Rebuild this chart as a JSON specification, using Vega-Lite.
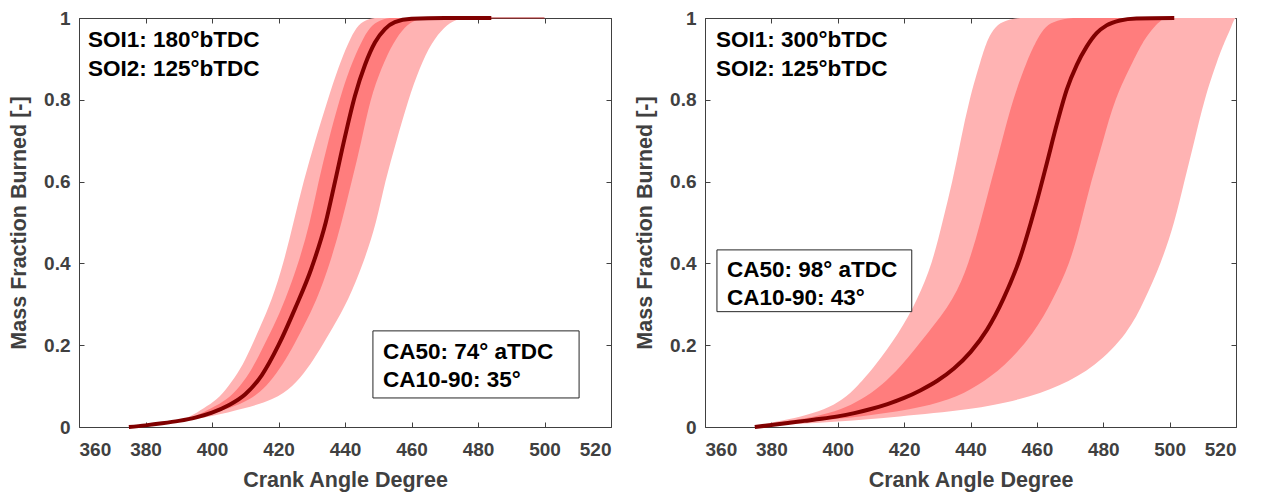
{
  "$schema": "https://vega.github.io/schema/vega-lite/v6.json",
  "background": "white",
  "padding": {"left": 8, "top": 8, "right": 5, "bottom": 5},
  "bounds": "flush",
  "spacing": 94,
  "config": {
    "font": "Liberation Sans",
    "view": {"stroke": "#404040", "strokeWidth": 1},
    "axis": {
      "domain": false,
      "grid": false,
      "tickColor": "#404040",
      "tickSize": -5,
      "labelFont": "Liberation Sans",
      "labelFontSize": 19,
      "labelFontWeight": "bold",
      "labelColor": "#404040",
      "titleFont": "Liberation Sans",
      "titleFontSize": 21.5,
      "titleFontWeight": "bold",
      "titleColor": "#404040"
    }
  },
  "datasets": {
    "bandsL": [
      {"f": 0.015, "oL": 389.8, "iL": 390.2, "iR": 390.8, "oR": 391.5},
      {"f": 0.025, "oL": 393.5, "iL": 394.8, "iR": 397.3, "oR": 399.5},
      {"f": 0.046, "oL": 397.5, "iL": 399.8, "iR": 405.3, "oR": 410},
      {"f": 0.066, "oL": 401.5, "iL": 404.5, "iR": 411.5, "oR": 418.5},
      {"f": 0.1, "oL": 405, "iL": 408.5, "iR": 416.5, "oR": 424.5},
      {"f": 0.14, "oL": 408.5, "iL": 412, "iR": 420.2, "oR": 428.5},
      {"f": 0.19, "oL": 411.5, "iL": 415, "iR": 424, "oR": 432.5},
      {"f": 0.245, "oL": 414.5, "iL": 418.5, "iR": 427.5, "oR": 436.5},
      {"f": 0.31, "oL": 418, "iL": 422, "iR": 431.5, "oR": 441},
      {"f": 0.4, "oL": 421.5, "iL": 426, "iR": 435.5, "oR": 445.5},
      {"f": 0.5, "oL": 424.5, "iL": 429.5, "iR": 439, "oR": 449.5},
      {"f": 0.6, "oL": 427.5, "iL": 432, "iR": 442, "oR": 452},
      {"f": 0.7, "oL": 431, "iL": 435, "iR": 445, "oR": 455.5},
      {"f": 0.8, "oL": 434.8, "iL": 438.3, "iR": 447.5, "oR": 459},
      {"f": 0.88, "oL": 438, "iL": 441.5, "iR": 451, "oR": 462.5},
      {"f": 0.94, "oL": 441, "iL": 444.8, "iR": 454.5, "oR": 466},
      {"f": 0.98, "oL": 443.5, "iL": 447.5, "iR": 458, "oR": 470},
      {"f": 0.995, "oL": 446, "iL": 450.5, "iR": 461, "oR": 473},
      {"f": 1.0, "oL": 449, "iL": 453.5, "iR": 464, "oR": 476}
    ],
    "meanL": [
      {"v": 375, "f": 0}, {"v": 380, "f": 0.004}, {"v": 385, "f": 0.009}, {"v": 390, "f": 0.015},
      {"v": 395, "f": 0.023}, {"v": 400, "f": 0.035}, {"v": 405, "f": 0.053}, {"v": 410, "f": 0.08},
      {"v": 415, "f": 0.127}, {"v": 420, "f": 0.2}, {"v": 425, "f": 0.29}, {"v": 430, "f": 0.39},
      {"v": 434.2, "f": 0.5}, {"v": 437, "f": 0.6}, {"v": 440, "f": 0.71}, {"v": 443, "f": 0.81},
      {"v": 446, "f": 0.885}, {"v": 449, "f": 0.94}, {"v": 452, "f": 0.973}, {"v": 455, "f": 0.99},
      {"v": 460, "f": 0.998}, {"v": 470, "f": 1.0}, {"v": 484, "f": 1.0}
    ],
    "tailL": [{"v": 476, "f": 1.0}, {"v": 500, "f": 1.0}],
    "boxL": [{"a": 448.4, "b": 510.4, "lo": 0.071, "hi": 0.235}],
    "notesL": [
      {"v": 362.7, "f": 0.947, "t": "SOI1: 180°bTDC"},
      {"v": 362.7, "f": 0.875, "t": "SOI2: 125°bTDC"},
      {"v": 451.4, "f": 0.184, "t": "CA50: 74° aTDC"},
      {"v": 451.4, "f": 0.115, "t": "CA10-90: 35°"}
    ],
    "bandsR": [
      {"f": 0.005, "oL": 377, "iL": 378, "iR": 380.5, "oR": 382},
      {"f": 0.013, "oL": 381, "iL": 383, "iR": 390, "oR": 400},
      {"f": 0.025, "oL": 389, "iL": 393.5, "iR": 407, "oR": 418},
      {"f": 0.042, "oL": 396, "iL": 401, "iR": 422, "oR": 440},
      {"f": 0.066, "oL": 401.5, "iL": 407, "iR": 434, "oR": 455},
      {"f": 0.1, "oL": 406, "iL": 413, "iR": 442, "oR": 467},
      {"f": 0.147, "oL": 411, "iL": 419, "iR": 450.2, "oR": 477.5},
      {"f": 0.229, "oL": 418.5, "iL": 427.1, "iR": 459.2, "oR": 487.5},
      {"f": 0.311, "oL": 424, "iL": 435, "iR": 464.8, "oR": 492.5},
      {"f": 0.4, "oL": 428.5, "iL": 439.5, "iR": 470, "oR": 497.4},
      {"f": 0.5, "oL": 431.5, "iL": 443, "iR": 473.3, "oR": 501.5},
      {"f": 0.6, "oL": 434.6, "iL": 446.2, "iR": 476.3, "oR": 504.4},
      {"f": 0.7, "oL": 437, "iL": 449.5, "iR": 480, "oR": 507.5},
      {"f": 0.8, "oL": 439.6, "iL": 452.7, "iR": 483.3, "oR": 510.4},
      {"f": 0.9, "oL": 443.2, "iL": 457.2, "iR": 489.3, "oR": 514.5},
      {"f": 0.95, "oL": 445.2, "iL": 460.2, "iR": 492.5, "oR": 517},
      {"f": 0.98, "oL": 447.5, "iL": 462.5, "iR": 495.5, "oR": 518.7},
      {"f": 0.995, "oL": 450.5, "iL": 466, "iR": 497.5, "oR": 519.3},
      {"f": 1.0, "oL": 455, "iL": 471, "iR": 498.5, "oR": 520}
    ],
    "meanR": [
      {"v": 375, "f": 0}, {"v": 380, "f": 0.005}, {"v": 385, "f": 0.01}, {"v": 390, "f": 0.015},
      {"v": 395, "f": 0.02}, {"v": 400, "f": 0.026}, {"v": 405, "f": 0.034}, {"v": 410, "f": 0.044},
      {"v": 415, "f": 0.056}, {"v": 420, "f": 0.071}, {"v": 425, "f": 0.09}, {"v": 430, "f": 0.113},
      {"v": 435, "f": 0.143}, {"v": 440, "f": 0.183}, {"v": 445, "f": 0.238}, {"v": 450, "f": 0.315},
      {"v": 455, "f": 0.415}, {"v": 458.2, "f": 0.5}, {"v": 460, "f": 0.552}, {"v": 463, "f": 0.645},
      {"v": 466, "f": 0.74}, {"v": 469, "f": 0.825}, {"v": 472, "f": 0.885}, {"v": 475, "f": 0.93},
      {"v": 478, "f": 0.963}, {"v": 481, "f": 0.982}, {"v": 485, "f": 0.994}, {"v": 490, "f": 0.999},
      {"v": 501.4, "f": 1.0}
    ],
    "boxR": [{"a": 363.6, "b": 422.3, "lo": 0.282, "hi": 0.433}],
    "notesR": [
      {"v": 363.3, "f": 0.947, "t": "SOI1: 300°bTDC"},
      {"v": 363.3, "f": 0.875, "t": "SOI2: 125°bTDC"},
      {"v": 366.6, "f": 0.384, "t": "CA50: 98° aTDC"},
      {"v": 366.6, "f": 0.315, "t": "CA10-90: 43°"}
    ]
  },
  "hconcat": [
    {
      "width": 532,
      "height": 409,
      "resolve": {"axis": {"x": "independent", "y": "independent"}},
      "layer": [
        {
          "data": {"name": "bandsL"},
          "mark": {"type": "area", "orient": "horizontal", "interpolate": "basis", "color": "#FFB3B3"},
          "encoding": {
            "y": {"field": "f", "type": "quantitative", "scale": {"domain": [0, 1], "nice": false},
                  "axis": {"orient": "left", "title": "Mass Fraction Burned [-]", "values": [0, 0.2, 0.4, 0.6, 0.8, 1], "format": "~g", "labelPadding": 14, "titlePadding": 13}},
            "x": {"field": "oL", "type": "quantitative", "scale": {"domain": [360, 520], "nice": false},
                  "axis": {"orient": "bottom", "title": "Crank Angle Degree", "values": [360, 380, 400, 420, 440, 460, 480, 500, 520], "labelPadding": 18, "titlePadding": 10}},
            "x2": {"field": "oR"}
          }
        },
        {
          "data": {"name": "bandsL"},
          "mark": {"type": "area", "orient": "horizontal", "interpolate": "basis", "color": "#FF7D7D"},
          "encoding": {
            "y": {"field": "f", "type": "quantitative", "axis": {"orient": "right", "title": null, "labels": false, "values": [0, 0.2, 0.4, 0.6, 0.8, 1]}},
            "x": {"field": "iL", "type": "quantitative", "axis": {"orient": "top", "title": null, "labels": false, "values": [360, 380, 400, 420, 440, 460, 480, 500, 520]}},
            "x2": {"field": "iR"}
          }
        },
        {
          "data": {"name": "tailL"},
          "mark": {"type": "line", "color": "#b02020", "strokeWidth": 1.2},
          "encoding": {
            "x": {"field": "v", "type": "quantitative", "axis": null},
            "y": {"field": "f", "type": "quantitative", "axis": null}
          }
        },
        {
          "data": {"name": "meanL"},
          "mark": {"type": "line", "interpolate": "monotone", "color": "#800000", "strokeWidth": 4},
          "encoding": {
            "x": {"field": "v", "type": "quantitative", "axis": null},
            "y": {"field": "f", "type": "quantitative", "axis": null}
          }
        },
        {
          "data": {"name": "boxL"},
          "mark": {"type": "rect", "fill": "white", "stroke": "#262626", "strokeWidth": 1},
          "encoding": {
            "x": {"field": "a", "type": "quantitative", "axis": null},
            "x2": {"field": "b"},
            "y": {"field": "lo", "type": "quantitative", "axis": null},
            "y2": {"field": "hi"}
          }
        },
        {
          "data": {"name": "notesL"},
          "mark": {"type": "text", "align": "left", "baseline": "middle", "fontSize": 22.5, "fontWeight": "bold", "font": "Liberation Sans", "color": "#000000"},
          "encoding": {
            "x": {"field": "v", "type": "quantitative", "axis": null},
            "y": {"field": "f", "type": "quantitative", "axis": null},
            "text": {"field": "t"}
          }
        }
      ]
    },
    {
      "width": 531,
      "height": 409,
      "resolve": {"axis": {"x": "independent", "y": "independent"}},
      "layer": [
        {
          "data": {"name": "bandsR"},
          "mark": {"type": "area", "orient": "horizontal", "interpolate": "basis", "color": "#FFB3B3"},
          "encoding": {
            "y": {"field": "f", "type": "quantitative", "scale": {"domain": [0, 1], "nice": false},
                  "axis": {"orient": "left", "title": "Mass Fraction Burned [-]", "values": [0, 0.2, 0.4, 0.6, 0.8, 1], "format": "~g", "labelPadding": 14, "titlePadding": 13}},
            "x": {"field": "oL", "type": "quantitative", "scale": {"domain": [360, 520], "nice": false},
                  "axis": {"orient": "bottom", "title": "Crank Angle Degree", "values": [360, 380, 400, 420, 440, 460, 480, 500, 520], "labelPadding": 18, "titlePadding": 10}},
            "x2": {"field": "oR"}
          }
        },
        {
          "data": {"name": "bandsR"},
          "mark": {"type": "area", "orient": "horizontal", "interpolate": "basis", "color": "#FF7D7D"},
          "encoding": {
            "y": {"field": "f", "type": "quantitative", "axis": {"orient": "right", "title": null, "labels": false, "values": [0, 0.2, 0.4, 0.6, 0.8, 1]}},
            "x": {"field": "iL", "type": "quantitative", "axis": {"orient": "top", "title": null, "labels": false, "values": [360, 380, 400, 420, 440, 460, 480, 500, 520]}},
            "x2": {"field": "iR"}
          }
        },
        {
          "data": {"name": "meanR"},
          "mark": {"type": "line", "interpolate": "monotone", "color": "#800000", "strokeWidth": 4},
          "encoding": {
            "x": {"field": "v", "type": "quantitative", "axis": null},
            "y": {"field": "f", "type": "quantitative", "axis": null}
          }
        },
        {
          "data": {"name": "boxR"},
          "mark": {"type": "rect", "fill": "white", "stroke": "#262626", "strokeWidth": 1},
          "encoding": {
            "x": {"field": "a", "type": "quantitative", "axis": null},
            "x2": {"field": "b"},
            "y": {"field": "lo", "type": "quantitative", "axis": null},
            "y2": {"field": "hi"}
          }
        },
        {
          "data": {"name": "notesR"},
          "mark": {"type": "text", "align": "left", "baseline": "middle", "fontSize": 22.5, "fontWeight": "bold", "font": "Liberation Sans", "color": "#000000"},
          "encoding": {
            "x": {"field": "v", "type": "quantitative", "axis": null},
            "y": {"field": "f", "type": "quantitative", "axis": null},
            "text": {"field": "t"}
          }
        }
      ]
    }
  ]
}
